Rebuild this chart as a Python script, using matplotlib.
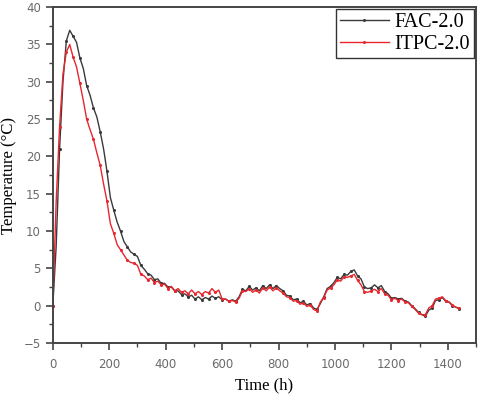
import numpy as np
import matplotlib
matplotlib.use("Agg")
import matplotlib.pyplot as plt
from matplotlib.ticker import MultipleLocator

# time axis, 12 h steps
time_h = list(range(0, 1441, 12))

fac = [0, 8, 21, 30, 35.5, 36.9, 36.1, 35.3, 33.2, 31.8,
       29.5, 28.2, 26.5, 25.3, 23.3, 21.0, 18.0, 14.5, 12.8, 11.2,
       10.0, 8.6, 7.9, 7.2, 6.9, 6.6, 5.4, 4.9, 4.3, 4.1,
       3.5, 3.6, 3.0, 3.0, 2.5, 2.5, 2.0, 2.0, 1.5, 1.6,
       1.2, 1.4, 0.9, 1.2, 0.8, 1.1, 0.9, 1.3, 1.0, 1.2,
       0.8, 0.9, 0.6, 0.8, 0.6, 1.2, 2.2, 2.0, 2.6, 2.1,
       2.4, 2.0, 2.7, 2.3, 2.8, 2.3, 2.7, 2.3, 2.0, 1.4,
       1.3, 0.8, 0.9, 0.4, 0.6, 0.1, 0.3, -0.3, -0.5, 0.3,
       1.2, 2.3, 2.6, 3.1, 3.8, 3.6, 4.2, 4.1, 4.6, 4.8,
       4.0, 3.6, 2.5, 2.3, 2.4, 2.8, 2.4, 2.7, 1.9, 1.6,
       1.0, 1.1, 0.9, 1.0, 0.6, 0.5, 0.0, -0.4, -0.9, -1.2,
       -1.4, -0.6, -0.3, 0.7, 0.8, 1.1, 0.6, 0.5, 0.0, -0.2,
       -0.4]

itpc = [0, 14, 24, 31, 34, 35.0, 33.3, 32.0, 29.8, 27.5,
        25.0, 23.6, 22.3, 20.5, 18.8, 16.3, 14.0, 11.0, 9.7, 8.2,
        7.5, 6.8, 6.1, 5.8, 5.7, 5.4, 4.2, 4.0, 3.5, 3.7,
        3.1, 3.3, 2.8, 2.9, 2.3, 2.6, 2.0, 2.3, 1.8, 2.0,
        1.6, 2.1, 1.6, 1.9, 1.5, 1.9, 1.7, 2.3, 1.8, 2.1,
        0.9, 0.9, 0.6, 0.7, 0.5, 1.0, 2.0, 1.9, 2.3, 1.8,
        2.1, 1.7, 2.4, 2.0, 2.5, 2.0, 2.4, 2.0, 1.7, 1.2,
        1.1, 0.6, 0.7, 0.2, 0.4, -0.1, 0.1, -0.5, -0.7, 0.5,
        1.1, 2.1, 2.4, 2.8, 3.5, 3.3, 3.9, 3.8, 4.0, 4.2,
        3.4, 2.8, 1.9, 1.8, 2.0, 2.2, 1.9, 2.3, 1.6, 1.4,
        0.8, 1.0, 0.7, 0.9, 0.5, 0.4, -0.1, -0.5, -1.0, -1.2,
        -1.2, -0.3, 0.0, 0.9, 1.0, 1.2, 0.7, 0.5, 0.1, -0.2,
        -0.3]

labels = ["FAC-2.0", "ITPC-2.0"]

fig = plt.figure(figsize=(4.8, 3.98), dpi=100)
ax = fig.add_axes([0.110, 0.138, 0.882, 0.844])

ax.plot(time_h, fac, color="#3a3a3a", lw=1.0, marker="o", ms=1.2,
        markevery=2, label=labels[0])
ax.plot(time_h, itpc, color="#e8262e", lw=1.0, marker="o", ms=1.2,
        markevery=2, label=labels[1])

ax.set_xlim(0, 1500)
ax.set_ylim(-5, 40)
ax.xaxis.set_major_locator(MultipleLocator(200))
ax.xaxis.set_minor_locator(MultipleLocator(100))
ax.yaxis.set_major_locator(MultipleLocator(5))
ax.yaxis.set_minor_locator(MultipleLocator(2.5))

for s in ax.spines.values():
    s.set_color("#444444")
    s.set_linewidth(1.4)
ax.tick_params(which="major", direction="out", length=5, width=1.2,
               color="#444444", labelcolor="#6a6a6a", labelsize=8.5)
ax.tick_params(axis="x", which="major", pad=6)
ax.tick_params(which="minor", direction="out", length=3, width=1.0,
               color="#444444")

ax.set_xlabel("Time (h)", family="Liberation Serif", fontsize=12, labelpad=4)
ax.set_ylabel("Temperature (\u00b0C)", family="Liberation Serif", fontsize=12,
              labelpad=5)

leg = ax.legend(loc="upper right", bbox_to_anchor=(1.0, 1.0), borderaxespad=0.1,
                prop={"family": "Liberation Serif", "size": 14.5},
                fancybox=False, framealpha=1, edgecolor="#333333",
                handlelength=2.4, handletextpad=0.3, labelspacing=0.15,
                borderpad=0.2)
leg.get_frame().set_linewidth(1.0)

fig.savefig("out.png", dpi=100)
